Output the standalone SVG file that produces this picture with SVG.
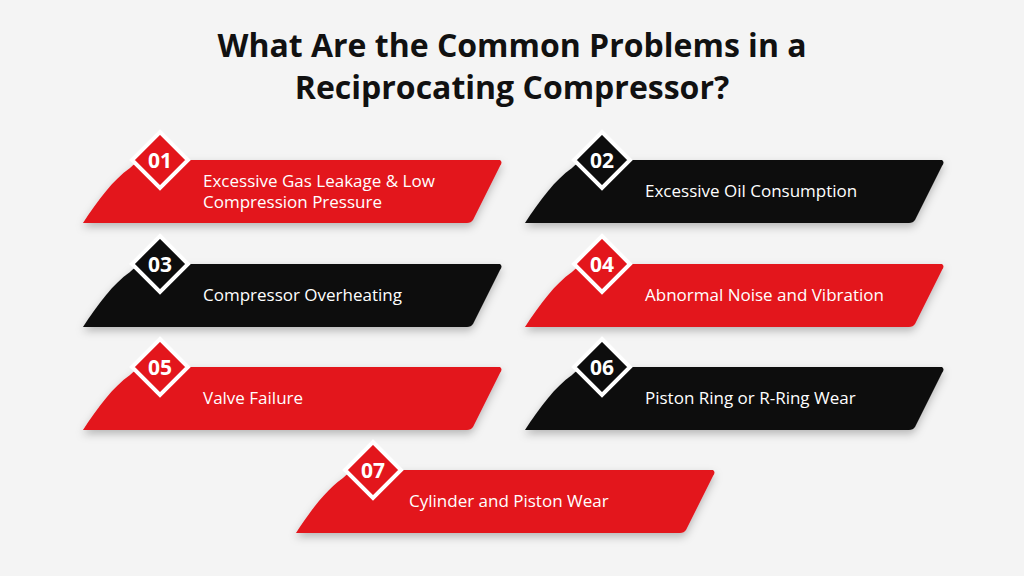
<svg xmlns="http://www.w3.org/2000/svg" width="1024" height="576" viewBox="0 0 1024 576">
<defs>
<style>
.t{font-family:"Open Sans","Liberation Sans",sans-serif;font-weight:700;font-size:32px;fill:#111;text-anchor:middle}
.l{font-family:"Open Sans","Liberation Sans",sans-serif;font-size:17px;fill:#fff}
.n{font-family:"Open Sans","Liberation Sans",sans-serif;font-weight:700;font-size:21px;fill:#fff;text-anchor:middle}
.r{fill:#e3161c}.k{fill:#0d0d0d}
.d{stroke:#fff;stroke-width:4}
</style>
<path id="band" d="M0,63 C15,40 30,20 47,8 Q55,0 65,0 L417,0 Q420,2 417,6 L390,60 Q388,63 384,63 Z"/>
<path id="dia" d="M0,-28 L28,0 L0,28 L-28,0 Z"/>
<filter id="sh" x="-10%" y="-20%" width="120%" height="150%"><feDropShadow dx="0" dy="4" stdDeviation="4" flood-opacity="0.25"/></filter>
</defs>
<rect width="1024" height="576" fill="#f4f4f4"/>
<text class="t" x="512" y="57">What Are the Common Problems in a</text>
<text class="t" x="512" y="99">Reciprocating Compressor?</text>
<g id="n1" transform="translate(83,160)"><use href="#band" class="r" filter="url(#sh)"/><use href="#dia" x="77" y="0" class="r d"/><text class="n" x="77" y="8">01</text><text class="l" x="120" y="27">Excessive Gas Leakage &amp; Low</text><text class="l" x="120" y="48">Compression Pressure</text></g>
<g id="n2" transform="translate(525,160)"><use href="#band" class="k" filter="url(#sh)"/><use href="#dia" x="77" y="0" class="k d"/><text class="n" x="77" y="8">02</text><text class="l" x="120" y="37">Excessive Oil Consumption</text></g>
<g id="n3" transform="translate(83,264)"><use href="#band" class="k" filter="url(#sh)"/><use href="#dia" x="77" y="0" class="k d"/><text class="n" x="77" y="8">03</text><text class="l" x="120" y="37">Compressor Overheating</text></g>
<g id="n4" transform="translate(525,264)"><use href="#band" class="r" filter="url(#sh)"/><use href="#dia" x="77" y="0" class="r d"/><text class="n" x="77" y="8">04</text><text class="l" x="120" y="37">Abnormal Noise and Vibration</text></g>
<g id="n5" transform="translate(83,367)"><use href="#band" class="r" filter="url(#sh)"/><use href="#dia" x="77" y="0" class="r d"/><text class="n" x="77" y="8">05</text><text class="l" x="120" y="37">Valve Failure</text></g>
<g id="n6" transform="translate(525,367)"><use href="#band" class="k" filter="url(#sh)"/><use href="#dia" x="77" y="0" class="k d"/><text class="n" x="77" y="8">06</text><text class="l" x="120" y="37">Piston Ring or R-Ring Wear</text></g>
<g id="n7" transform="translate(296,470)"><use href="#band" class="r" filter="url(#sh)"/><use href="#dia" x="77" y="0" class="r d"/><text class="n" x="77" y="8">07</text><text class="l" x="113" y="37">Cylinder and Piston Wear</text></g>
<g id="connectors"/>
</svg>
